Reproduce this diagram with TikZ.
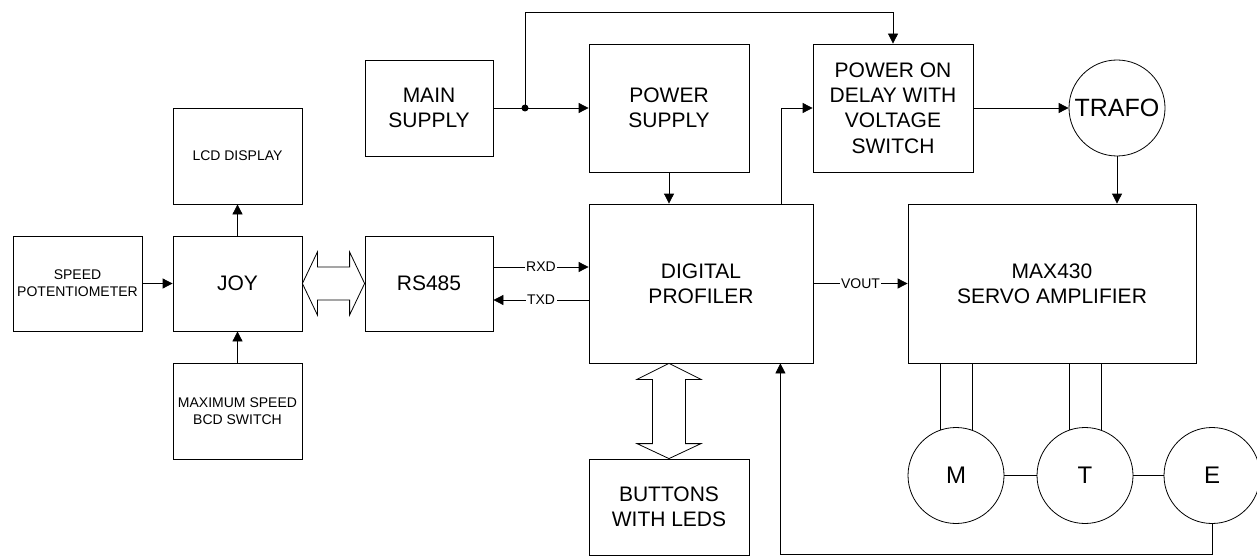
\documentclass[tikz,border=0pt]{standalone}
\usepackage{fontspec}
\setmainfont{Liberation Sans}
\usetikzlibrary{positioning,calc,arrows.meta}

\newcommand{\bigtxt}{\fontsize{21}{25.3}\selectfont}
\newcommand{\smalltxt}{\fontsize{14}{16.7}\selectfont}

\begin{document}
\begin{tikzpicture}[x=1pt,y=-1pt,line width=0.8pt,
  >={Triangle[length=10pt,width=10pt]},
  blk/.style={draw,align=center,inner sep=0pt,font=\bigtxt},
  sblk/.style={blk,font=\smalltxt},
  circ/.style={draw,circle,minimum size=96pt,inner sep=0pt,font=\fontsize{24}{28}\selectfont},
  lbl/.style={fill=white,inner sep=1.5pt,font=\smalltxt}]
\useasboundingbox (0,0) rectangle (1257,556);

% joystick side
\node[sblk,minimum width=129pt,minimum height=95pt] (spd) at (77.5,283.5) {SPEED\\POTENTIOMETER};
\node[blk,minimum width=129pt,minimum height=95pt] (joy) at (237.5,283.5) {JOY};
\node[sblk,minimum width=129pt,minimum height=96pt] (lcd) at (237.5,156) {LCD DISPLAY};
\node[sblk,minimum width=129pt,minimum height=96pt] (maxsp) at (237.5,411) {MAXIMUM SPEED\\BCD SWITCH};
\node[blk,minimum width=128pt,minimum height=95pt] (rs) at (429,283.5) {RS485};

% supply
\node[blk,minimum width=128pt,minimum height=96pt] (main) at (429,108) {MAIN\\SUPPLY};
\node[blk,minimum width=160pt,minimum height=128pt] (psu) at (669,108) {POWER\\SUPPLY};
\node[blk,minimum width=160pt,minimum height=128pt] (pon) at (893,108) {POWER ON\\DELAY WITH\\VOLTAGE\\SWITCH};
\node[circ,font=\fontsize{25}{30}\selectfont] (trafo) at (1117,108) {TRAFO};

% profiler and servo
\node[blk,minimum width=224pt,minimum height=159pt] (dp) at (701,283.5) {DIGITAL\\PROFILER};
\node[blk,minimum width=288pt,minimum height=159pt] (mx) at (1052,283.5) {MAX430\\SERVO AMPLIFIER};
\node[blk,minimum width=160pt,minimum height=96pt] (btn) at (669,507) {BUTTONS\\WITH LEDS};

\node[circ] (m) at (956,475.5) {M};
\node[circ] (t) at (1085,475.5) {T};
\node[circ] (e) at (1212,475.5) {E};

\coordinate (jn) at (525,108);
\coordinate (top) at (525,12);
\coordinate (bot) at (0,554);

\draw[->] (spd) -- (joy);
\draw[->] (joy) -- (lcd);
\draw[->] (maxsp) -- (joy);

\draw (main.east) -- (jn);
\draw[->] (jn) -- (psu.west);
\draw[->] (jn) -- (top) -| (pon.north);
\fill (jn) circle (3.5pt);
\draw[->] (psu.south) -- (psu.south |- dp.north);

\draw[->] ([yshift=16.5pt]rs.east) -- node[lbl]{RXD} ([yshift=16.5pt]rs.east -| dp.west);
\draw[->] ([yshift=-16.5pt]rs.east -| dp.west) -- node[lbl]{TXD} ([yshift=-16.5pt]rs.east);
\draw[->] (dp) -- node[lbl]{VOUT} (mx);

\draw[->] ([xshift=-32pt]dp.north east) |- (pon.west);
\draw[->] (pon) -- (trafo);
\draw[->] (trafo.south) -- (trafo.south |- mx.north);

\draw (m.109.5) -- (m.109.5 |- mx.south);
\draw (m.70.5) -- (m.70.5 |- mx.south);
\draw (t.109.5) -- (t.109.5 |- mx.south);
\draw (t.70.5) -- (t.70.5 |- mx.south);
\draw (m) -- (t);
\draw (t) -- (e);
\draw[->] (e.south) -- (e.south |- bot) -| ([xshift=-33pt]dp.south east);

% hollow double arrows
\draw (joy.east) -- ($(joy.east)+(15,-31.5)$) -- ($(joy.east)+(15,-16.5)$)
  -- ($(rs.west)+(-15,-16.5)$) -- ($(rs.west)+(-15,-31.5)$) -- (rs.west)
  -- ($(rs.west)+(-15,31.5)$) -- ($(rs.west)+(-15,16.5)$)
  -- ($(joy.east)+(15,16.5)$) -- ($(joy.east)+(15,31.5)$) -- cycle;
\coordinate (ua) at (btn.north |- dp.south);
\draw (ua) -- ($(ua)+(-32,16)$) -- ($(ua)+(-16.5,16)$)
  -- ($(btn.north)+(-16.5,-15)$) -- ($(btn.north)+(-32,-15)$) -- (btn.north)
  -- ($(btn.north)+(32,-15)$) -- ($(btn.north)+(16.5,-15)$)
  -- ($(ua)+(16.5,16)$) -- ($(ua)+(32,16)$) -- cycle;
\end{tikzpicture}
\end{document}
